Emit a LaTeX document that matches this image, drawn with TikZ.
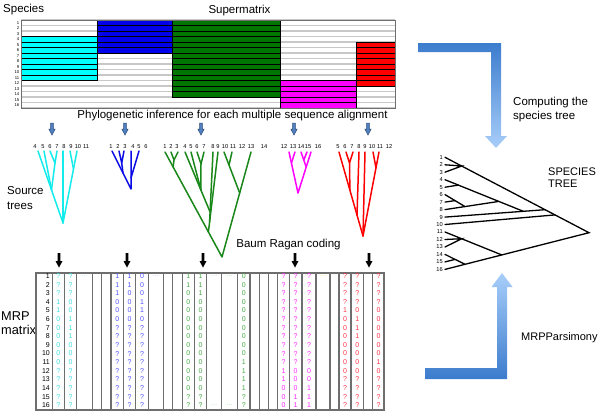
\documentclass[tikz,border=0pt]{standalone}
\usepackage{fontspec}
\setmainfont{Liberation Sans}
\usetikzlibrary{arrows.meta}
\definecolor{MatCyan}{RGB}{0,255,255}
\definecolor{MatBlue}{RGB}{0,0,235}
\definecolor{MatGreen}{RGB}{0,118,0}
\definecolor{MatMagenta}{RGB}{255,0,255}
\definecolor{MatRed}{RGB}{255,0,0}
\definecolor{TreeCyan}{RGB}{20,235,235}
\definecolor{TreeBlue}{RGB}{10,10,230}
\definecolor{TreeGreen}{RGB}{25,135,25}
\definecolor{TreeMagenta}{RGB}{255,0,255}
\definecolor{TreeRed}{RGB}{255,0,0}
\definecolor{MrpCyan}{RGB}{60,220,225}
\definecolor{MrpBlue}{RGB}{80,80,255}
\definecolor{MrpGreen}{RGB}{70,170,70}
\definecolor{MrpMagenta}{RGB}{255,40,255}
\definecolor{MrpRed}{RGB}{255,50,70}
\definecolor{GridGray}{RGB}{200,200,200}
\definecolor{FrameGray}{RGB}{110,110,110}
\definecolor{ArrowDark}{RGB}{60,124,205}
\definecolor{ArrowLight}{RGB}{168,206,250}
\definecolor{SmallArrow}{RGB}{80,128,192}
\definecolor{SmallArrowEdge}{RGB}{45,75,120}

% one column of the MRP matrix: name, x, colour, entries
\newcommand\mrpcol[4]{%
  \foreach \v [count=\r] in {#4}
    \node[cell,text=#3] (#1\r) at (#2,{276+8.62*(\r-1)}) {\v};}

\begin{document}
\begin{tikzpicture}[x=1pt,y=-1pt,
  title/.style={font=\fontsize{11.5}{14.5}\selectfont, inner sep=0pt},
  leaf/.style={font=\fontsize{5.7}{6}\selectfont, inner sep=0pt},
  rowno/.style={font=\fontsize{4.2}{5}\selectfont, inner sep=0pt, anchor=east},
  cell/.style={font=\fontsize{7}{7}\selectfont, inner sep=0pt},
  branch/.style={line width=1.5pt, line cap=round, line join=round},
  grid/.style={FrameGray, line width=1.3pt}]
  \useasboundingbox (0,0) rectangle (600,418);

  % Supermatrix
  \node[title, anchor=west] (species) at (3,10) {Species};
  \node[title] (supermatrix) at (239.5,11) {Supermatrix};
  \foreach \r in {0,...,16}
    \draw[GridGray, line width=1.6pt] (21,{20+5.5*\r}) -- (395,{20+5.5*\r});
  \foreach \c/\xa/\xb/\ra/\rb in {MatCyan/21/97/4/11, MatBlue/97/172/1/6,
      MatGreen/172/280/1/14, MatMagenta/280/356/12/16, MatRed/356/395/5/12} {
    \fill[fill=\c] (\xa,{20+5.5*(\ra-1)}) rectangle (\xb,{20+5.5*\rb});
    \foreach \r in {\ra,...,\rb}
      \draw[black, line width=0.5pt] (\xa,{20+5.5*\r}) -- (\xb,{20+5.5*\r});
    \draw[black, line width=0.7pt] (\xa,{20+5.5*(\ra-1)}) rectangle (\xb,{20+5.5*\rb});
  }
  \draw[FrameGray, line width=0.8pt] (21,20) rectangle (395,108);
  \foreach \r in {1,...,16}
    \node[rowno] (sm\r) at (19.5,{20+5.5*(\r-0.5)}) {\r};

  % Phylogenetic inference
  \node[title] (inference) at (232.5,116) {Phylogenetic inference for each multiple sequence alignment};
  \foreach \x in {52,125,201,294,368}
    \filldraw[fill=SmallArrow, draw=SmallArrowEdge, line width=0.5pt]
      ({\x-1.3},123) -- ({\x+1.3},123) -- ({\x+1.3},129) -- ({\x+3.2},129)
      -- (\x,135) -- ({\x-3.2},129) -- ({\x-1.3},129) -- cycle;

  % Source trees
  \node[title, anchor=west, align=left] (source) at (7,198) {Source\\trees};
  \foreach \x/\t in {35/4,43/5,50/6,57/7,64/8,71/9,78/10,86/11}
    \node[leaf] (cyl\t) at (\x,147) {\t};
  \foreach \x/\t in {111/1,118/2,125/3,133/4,139/5,146/6}
    \node[leaf] (bll\t) at (\x,147) {\t};
  \foreach \x/\t in {165/1,171/2,177/3,185/4,191/5,197/6,204/7,213/8,218/9,225/10,233/11,242/12,251/13,264/14}
    \node[leaf] (grl\t) at (\x,147) {\t};
  \foreach \x/\t in {284/12,293/13,301/14,308/15,318/16}
    \node[leaf] (mgl\t) at (\x,147) {\t};
  \foreach \x/\t in {338/5,345/6,352/7,359/8,365/9,372/10,380/11,389/12}
    \node[leaf] (rdl\t) at (\x,147) {\t};

  \begin{scope}[branch, TreeCyan]
    \draw (38,151) -- (63,223) -- (77,151);
    \draw (63,151) -- (63,223);
    \draw (70,151) -- (73.5,169);
    \draw (44,151) -- (51.5,190);
    \draw (50,151) -- (55,163) -- (57,151);
    \draw (55,163) -- (51.5,190);
  \end{scope}
  \begin{scope}[branch, TreeBlue]
    \draw (112,151) -- (131,189) -- (131,151);
    \draw (119,151) -- (121.7,163) -- (124,151);
    \draw (121.7,163) -- (123,173);
    \draw (139,151) -- (131,178);
  \end{scope}
  \begin{scope}[branch, TreeGreen]
    \draw (165,152) -- (222,257) -- (251,152);
    \draw (171,152) -- (174,160) -- (178,152);
    \draw (174,160) -- (173.1,167);
    \draw (218,152) -- (208.4,232);
    \draw (213,152) -- (209.6,222);
    \draw (185,152) -- (210.1,212);
    \draw (191,152) -- (200.9,190);
    \draw (197,152) -- (201,164) -- (204,152);
    \draw (201,164) -- (200.9,190);
    \draw (224,152) -- (239.7,193);
    \draw (232,152) -- (229,165);
  \end{scope}
  \begin{scope}[branch, TreeMagenta]
    \draw (289,152) -- (298,193) -- (311,152);
    \draw (295,152) -- (291.4,163);
    \draw (301,152) -- (306.2,167);
    \draw (307,152) -- (303.8,160);
  \end{scope}
  \begin{scope}[branch, TreeRed]
    \draw (339,152) -- (363,236) -- (379,152);
    \draw (346,152) -- (349.5,163) -- (353,152);
    \draw (349.5,163) -- (349.9,190);
    \draw (359,152) -- (357,215);
    \draw (365,152) -- (363,236);
    \draw (373,152) -- (376,168);
  \end{scope}

  % Baum Ragan coding
  \node[title] (coding) at (288.5,245) {Baum Ragan coding};
  \foreach \x in {59,127,203,295,369}
    \fill[black] ({\x-1.3},253) -- ({\x+1.3},253) -- ({\x+1.3},261) -- ({\x+3.5},261)
      -- (\x,267.5) -- ({\x-3.5},261) -- ({\x-1.3},261) -- cycle;

  % MRP matrix
  \node[font=\fontsize{12.8}{13.3}\selectfont, inner sep=0pt, anchor=west, align=left] (mrp) at (1,323.3) {MRP\\matrix};
  \foreach \x in {52.3,64.3,76.7,92.3,101.7,111,123.3,135.7,148.3,163.3,172.7,182.3,194.3,
      206.7,221.7,237.7,250,259.3,268.3,277.7,289.3,302,316,330,339,351,363.3,372.7}
    \draw[grid] (\x,273) -- (\x,410);
  \draw[FrameGray, line width=1.5pt] (36,273) rectangle (384,410);
  \foreach \r in {1,...,16}
    \node[cell, anchor=east] (mrow\r) at (50,{276+8.62*(\r-1)}) {\r};
  \mrpcol{cya}{58.3}{MrpCyan}{?,?,?,1,1,0,0,0,0,0,0,?,?,?,?,?}
  \mrpcol{cyb}{70.5}{MrpCyan}{?,?,?,0,0,1,1,1,0,0,0,?,?,?,?,?}
  \mrpcol{bla}{117.2}{MrpBlue}{1,1,1,0,0,0,?,?,?,?,?,?,?,?,?,?}
  \mrpcol{blb}{129.5}{MrpBlue}{1,1,0,0,0,0,?,?,?,?,?,?,?,?,?,?}
  \mrpcol{blc}{142}{MrpBlue}{0,0,0,1,1,0,?,?,?,?,?,?,?,?,?,?}
  \mrpcol{gra}{188.3}{MrpGreen}{1,1,0,0,0,0,0,0,0,0,0,0,0,0,?,?}
  \mrpcol{grb}{200.5}{MrpGreen}{1,1,1,0,0,0,0,0,0,0,0,0,0,0,?,?}
  \mrpcol{grc}{243.8}{MrpGreen}{0,0,0,0,0,0,0,0,0,0,1,1,1,1,?,?}
  \mrpcol{mga}{283.5}{MrpMagenta}{?,?,?,?,?,?,?,?,?,?,?,1,1,0,0,0}
  \mrpcol{mgb}{295.6}{MrpMagenta}{?,?,?,?,?,?,?,?,?,?,?,0,0,0,1,1}
  \mrpcol{mgc}{309}{MrpMagenta}{?,?,?,?,?,?,?,?,?,?,?,0,0,1,1,1}
  \mrpcol{rda}{345}{MrpRed}{?,?,?,?,1,0,0,0,0,0,0,0,?,?,?,?}
  \mrpcol{rdb}{357.2}{MrpRed}{?,?,?,?,0,1,1,1,0,0,0,0,?,?,?,?}
  \mrpcol{rdc}{378.5}{MrpRed}{?,?,?,?,0,0,0,0,0,0,1,0,?,?,?,?}
  \node[cell, text=MrpCyan!45] (dotcy) at (84.5,276) {\dots};
  \node[cell, text=MrpBlue!35] (dotbl) at (155.8,276) {\dots};
  \node[cell, text=MrpGreen!45] (dotgra) at (214.2,276) {\dots};
  \node[cell, text=MrpGreen!45] (dotgrb) at (229.7,276) {\dots};
  \node[cell, text=MrpGreen!45] (dotgrc) at (214.2,405.3) {\dots};
  \node[cell, text=MrpGreen!45] (dotgrd) at (229.7,405.3) {\dots};
  \node[cell, text=yellow!70!orange!60] (dotmg) at (323,276) {\dots};

  % Species tree
  \node[font=\fontsize{11}{12.3}\selectfont, inner sep=0pt, anchor=west, align=left] (sptitle) at (548,178) {SPECIES\\TREE};
  \foreach \r in {1,...,16}
    \node[leaf, anchor=east] (sp\r) at (443,{157.3+7.47*(\r-1)}) {\r};
  \begin{scope}[line width=1.3pt, line cap=round]
    \draw (445,157.3) -- (589,232.7) -- (445,269.4);
    \draw (445,164.8) -- (461.7,166) -- (445,172.2);
    \draw (445,179.7) -- (523.3,211.3);
    \draw (445,187.2) -- (458.3,185.1);
    \draw (445,209.6) -- (498.3,201.5);
    \draw (445,194.6) -- (465,206.6);
    \draw (445,202.1) -- (455,200.6);
    \draw (445,217.1) -- (545,209.7);
    \draw (445,224.5) -- (555,214.9);
    \draw (445,232) -- (501.7,254.9);
    \draw (445,239.5) -- (461.7,238.7) -- (445,247);
    \draw (445,254.4) -- (465,264.3);
    \draw (445,261.9) -- (455,259.4);
  \end{scope}

  % Big arrows
  \shade[top color=ArrowDark, bottom color=ArrowLight]
    (418,43) -- (501,43) -- (501,136) -- (507,136) -- (496,148) -- (485,136)
    -- (491,136) -- (491,52) -- (418,52) -- cycle;
  \node[title, anchor=west, align=left] (computing) at (513,109.5) {Computing the\\species tree};
  \shade[top color=ArrowLight, bottom color=ArrowDark]
    (425,368) -- (497,368) -- (497,287) -- (491.5,287) -- (502,273) -- (512.5,287)
    -- (507,287) -- (507,379) -- (425,379) -- cycle;
  \node[font=\fontsize{11}{13}\selectfont, inner sep=0pt, anchor=west] (parsimony) at (521,338) {MRPParsimony};
\end{tikzpicture}
\end{document}
